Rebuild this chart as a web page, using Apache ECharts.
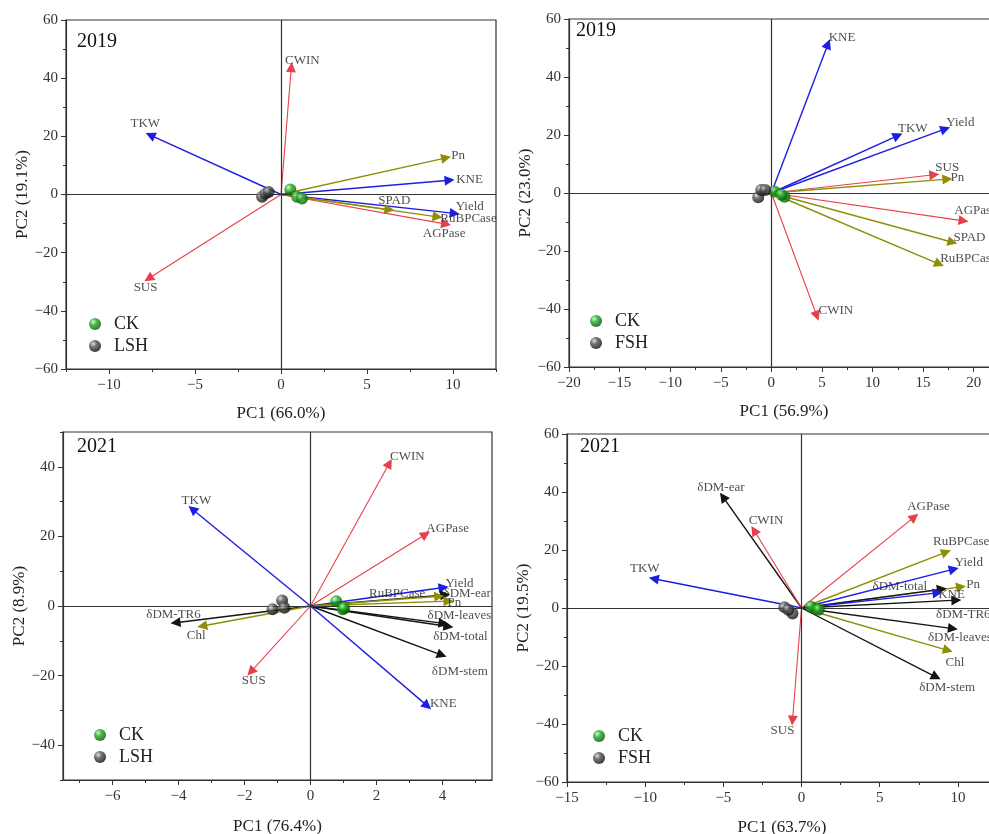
<!DOCTYPE html>
<html>
<head>
<meta charset="utf-8">
<script src="https://cdn.jsdelivr.net/npm/echarts@6/dist/echarts.min.js"></script>
<style>
  html, body { margin: 0; padding: 0; background: #fff; overflow: hidden; }
  /* the right-hand panels run past the window edge */
  #chart { width: 1012px; height: 834px; }
</style>
</head>
<body>
<div id="chart"></div>
<script>
// ---------- Panel A: 2019, CK vs LSH ----------
const varsA = ['CWIN', 'TKW', 'Pn', 'KNE', 'Yield', 'SPAD', 'RuBPCase', 'AGPase', 'SUS'];
const pc1A  = [0.6, -7.6, 9.6, 9.8, 10.1, 6.3, 9.1, 9.6, -7.7];
const pc2A  = [43.8, 20.4, 12.6, 4.9, -6.5, -5.2, -7.7, -10.2, -28.9];
const ckA_pc1 = [0.54, 0.93, 1.22];
const ckA_pc2 = [1.7, -0.8, -1.4];
const shA_pc1 = [-1.1, -0.91, -0.72];
const shA_pc2 = [-0.8, 0.3, 0.9];

// ---------- Panel B: 2019, CK vs FSH ----------
const varsB = ['KNE', 'TKW', 'Yield', 'SUS', 'Pn', 'AGPase', 'SPAD', 'RuBPCase', 'CWIN'];
const pc1B  = [5.6, 12.5, 17.2, 16.1, 17.4, 19.0, 17.9, 16.6, 4.5];
const pc2B  = [51.4, 19.8, 22.1, 6.3, 4.8, -9.6, -17.0, -24.5, -42.4];
const ckB_pc1 = [1.3, 0.3, 1.0];
const ckB_pc2 = [-1.3, 0.5, -0.6];
const shB_pc1 = [-1.3, -1.0, -0.6];
const shB_pc2 = [-1.5, 1.0, 1.0];

// ---------- Panel C: 2021, CK vs LSH ----------
const varsC = ['CWIN', 'TKW', 'AGPase', 'Yield', 'δDM-ear', 'RuBPCase', 'Pn', 'δDM-leaves', 'δDM-total', 'δDM-stem', 'KNE', 'SUS', 'δDM-TR6', 'Chl'];
const pc1C  = [2.39, -3.58, 3.49, 4.03, 4.08, 3.9, 4.18, 4.03, 4.18, 3.98, 3.54, -1.81, -4.09, -3.28];
const pc2C  = [41.0, 27.8, 20.6, 5.3, 3.2, 2.8, 1.4, -5.0, -5.9, -14.1, -28.7, -18.9, -4.8, -5.75];
const ckC_pc1 = [0.78, 0.98, 1.02];
const ckC_pc2 = [1.4, -0.95, -0.6];
const shC_pc1 = [-1.15, -0.86, -0.79];
const shC_pc2 = [-0.95, 1.6, -0.5];

// ---------- Panel D: 2021, CK vs FSH ----------
const varsD = ['δDM-ear', 'CWIN', 'AGPase', 'RuBPCase', 'Yield', 'Pn', 'δDM-total', 'KNE', 'δDM-TR6', 'δDM-leaves', 'Chl', 'δDM-stem', 'SUS', 'TKW'];
const pc1D  = [-5.03, -3.04, 7.22, 9.25, 9.74, 10.2, 8.97, 8.7, 9.9, 9.68, 9.36, 8.61, -0.58, -9.45];
const pc2D  = [38.3, 26.8, 31.4, 19.3, 13.4, 7.3, 6.5, 5.2, 2.7, -7.1, -14.6, -23.8, -38.8, 10.1];
const ckD_pc1 = [0.9, 0.6, 1.1];
const ckD_pc2 = [-0.3, 0.4, -0.6];
const shD_pc1 = [-1.1, -0.58, -0.85];
const shD_pc2 = [0.3, -1.9, -0.6];

// ---------- Axis titles and tick labels ----------
const years   = ['2019', '2019', '2021', '2021'];
const groupsB = ['LSH', 'FSH', 'LSH', 'FSH'];
const xTitles = ['PC1 (66.0%)', 'PC1 (56.9%)', 'PC1 (76.4%)', 'PC1 (63.7%)'];
const yTitles = ['PC2 (19.1%)', 'PC2 (23.0%)', 'PC2 (8.9%)', 'PC2 (19.5%)'];
const xTicks = [[-10, -5, 0, 5, 10], [-20, -15, -10, -5, 0, 5, 10, 15, 20], [-6, -4, -2, 0, 2, 4], [-15, -10, -5, 0, 5, 10]];
const xMinorTicks = [[-12.5, -7.5, -2.5, 2.5, 7.5, 12.5], [-17.5, -12.5, -7.5, -2.5, 2.5, 7.5, 12.5, 17.5, 22.5], [-7, -5, -3, -1, 1, 3, 5], [-12.5, -7.5, -2.5, 2.5, 7.5, 12.5]];
const yTicks = [[-60, -40, -20, 0, 20, 40, 60], [-60, -40, -20, 0, 20, 40, 60], [-40, -20, 0, 20, 40], [-60, -40, -20, 0, 20, 40, 60]];
const yMinorTicks = [[-50, -30, -10, 10, 30, 50], [-50, -30, -10, 10, 30, 50], [-50, -30, -10, 10, 30, 50], [-50, -30, -10, 10, 30, 50]];
const xRanges = [[-12.5, 12.5], [-20, 22.5], [-7.5, 5.5], [-15, 12.5]];
const yRanges = [[-60, 60], [-60, 60], [-50, 50], [-60, 60]];

// ---------- Layout & styling ----------
const FONT = '"Liberation Serif", "Times New Roman", serif';
const grids = [
  { left: 66,  top: 20,  width: 430, height: 349 },
  { left: 569, top: 19,  width: 430, height: 348 },
  { left: 63,  top: 432, width: 429, height: 348 },
  { left: 567, top: 434, width: 430, height: 348 }
];
const xNameGap = [36, 36, 38, 37];
const yNameGap = [34, 35, 32, 33];
const yearPos = [[77, 32], [576, 21], [77, 437], [580, 437]];
const legendPos = [[84, 308], [585, 305], [89, 719], [588, 720]];

// label offsets (px) relative to each arrow tip
const offA = [[11, -7], [-5, -12], [12, -2], [20, -1], [15, -7], [5, -9], [31, 2], [-2, 9], [-3, 9]];
const offB = [[14, -6], [15, -7], [15, -6], [13, -7], [10, -2], [12, -10], [17, -5], [29, -5], [19, -5]];
const offC = [[18, -7], [4, -9], [22, -6], [16, -4], [22, -1], [-42, -3], [6, 1], [16, -8], [12, 10], [18, 17], [16, -2], [3, 9], [-2, -8], [-6, 10]];
const offD = [[-2, -9], [12, -10], [14, -10], [15, -10], [15, -7], [12, -2], [-42, -3], [14, 2], [7, 14], [7, 9], [7, 12], [11, 11], [-10, 10], [-9, -10]];

const RED = '#e8404a', BLUE = '#1e1ee2', OLIVE = '#8e8e08', BLACK = '#141414';
function arrowColor(name) {
  if (name === 'CWIN' || name === 'SUS' || name === 'AGPase') return RED;
  if (name === 'TKW' || name === 'KNE' || name === 'Yield') return BLUE;
  if (name.indexOf('δDM') === 0) return BLACK;
  return OLIVE;
}
const ball = (c0, c1, c2) => new echarts.graphic.RadialGradient(0.35, 0.32, 0.7, [
  { offset: 0, color: c0 }, { offset: 0.4, color: c1 }, { offset: 1, color: c2 }
]);
const greenBall = ball('#c8f7c0', '#1faa1f', '#045204');
const greyBall  = ball('#d8d8d8', '#505050', '#0c0c0c');
const fmt = v => String(v).replace('-', '\u2212');

const panels = [
  { vars: varsA, pc1: pc1A, pc2: pc2A, off: offA, ck: [ckA_pc1, ckA_pc2], sh: [shA_pc1, shA_pc2] },
  { vars: varsB, pc1: pc1B, pc2: pc2B, off: offB, ck: [ckB_pc1, ckB_pc2], sh: [shB_pc1, shB_pc2] },
  { vars: varsC, pc1: pc1C, pc2: pc2C, off: offC, ck: [ckC_pc1, ckC_pc2], sh: [shC_pc1, shC_pc2] },
  { vars: varsD, pc1: pc1D, pc2: pc2D, off: offD, ck: [ckD_pc1, ckD_pc2], sh: [shD_pc1, shD_pc2] }
];

const option = {
  backgroundColor: '#fff',
  animation: false,
  title: [], grid: [], xAxis: [], yAxis: [], legend: [], series: []
};

panels.forEach((p, i) => {
  option.grid.push(Object.assign({
    show: true, borderColor: '#333', borderWidth: 1.2, backgroundColor: 'transparent',
    containLabel: false, outerBoundsMode: 'none'
  }, grids[i]));
  option.title.push({
    text: years[i], left: yearPos[i][0], top: yearPos[i][1], padding: 0,
    textStyle: { fontFamily: FONT, fontSize: 20, fontWeight: 'normal', color: '#111' }
  });
  // main axes with labelled ticks
  option.xAxis.push({
    gridIndex: i, type: 'value', min: xRanges[i][0], max: xRanges[i][1],
    name: xTitles[i], nameLocation: 'middle', nameGap: xNameGap[i],
    nameTextStyle: { fontFamily: FONT, fontSize: 17, color: '#222' },
    axisLine: { show: true, onZero: false, lineStyle: { color: '#333', width: 1.2 } },
    axisTick: { show: true, customValues: xTicks[i], length: 5, lineStyle: { color: '#333' } },
    axisLabel: { customValues: xTicks[i], fontFamily: FONT, fontSize: 15, color: '#333', margin: 9, formatter: fmt },
    splitLine: { show: false }
  });
  option.yAxis.push({
    gridIndex: i, type: 'value', min: yRanges[i][0], max: yRanges[i][1],
    name: yTitles[i], nameLocation: 'middle', nameGap: yNameGap[i],
    nameTextStyle: { fontFamily: FONT, fontSize: 17, color: '#222' },
    axisLine: { show: true, onZero: false, lineStyle: { color: '#333', width: 1.2 } },
    axisTick: { show: true, customValues: yTicks[i], length: 5, lineStyle: { color: '#333' } },
    axisLabel: { customValues: yTicks[i], fontFamily: FONT, fontSize: 15, color: '#333', margin: 8, formatter: fmt },
    splitLine: { show: false }
  });
});

// minor-tick axes (unlabelled)
panels.forEach((p, i) => {
  option.xAxis.push({
    gridIndex: i, type: 'value', min: xRanges[i][0], max: xRanges[i][1], position: 'bottom',
    axisLine: { show: false, onZero: false },
    axisTick: { show: true, customValues: xMinorTicks[i], length: 3, lineStyle: { color: '#333' } },
    axisLabel: { show: false }, splitLine: { show: false }
  });
  option.yAxis.push({
    gridIndex: i, type: 'value', min: yRanges[i][0], max: yRanges[i][1], position: 'left',
    axisLine: { show: false, onZero: false },
    axisTick: { show: true, customValues: yMinorTicks[i], length: 3, lineStyle: { color: '#333' } },
    axisLabel: { show: false }, splitLine: { show: false }
  });
});

panels.forEach((p, i) => {
  // zero reference lines through the origin
  option.series.push({
    type: 'scatter', xAxisIndex: i, yAxisIndex: i, data: [], z: 1, silent: true,
    markLine: {
      silent: true, symbol: 'none', animation: false, label: { show: false },
      lineStyle: { color: '#333', width: 1.2, type: 'solid' },
      data: [{ xAxis: 0 }, { yAxis: 0 }]
    }
  });
  // loading arrows
  option.series.push({
    type: 'lines', coordinateSystem: 'cartesian2d', xAxisIndex: i, yAxisIndex: i, z: 3, silent: true,
    symbol: ['none', 'triangle'], symbolSize: 10,
    data: p.vars.map((n, k) => ({
      name: n,
      coords: [[0, 0], [p.pc1[k], p.pc2[k]]],
      lineStyle: { color: arrowColor(n), width: arrowColor(n) === RED ? 1.1 : 1.4, opacity: 1 }
    }))
  });
  // variable labels at the arrow tips
  option.series.push({
    type: 'scatter', xAxisIndex: i, yAxisIndex: i, z: 6, silent: true,
    symbolSize: 1, itemStyle: { color: 'transparent' },
    data: p.vars.map((n, k) => ({
      name: n, value: [p.pc1[k], p.pc2[k]],
      label: { show: true, position: 'inside', offset: p.off[k], formatter: '{b}',
               fontFamily: FONT, fontSize: 13, color: '#222' }
    }))
  });
  // sample scores
  option.series.push({
    name: 'CK', type: 'scatter', xAxisIndex: i, yAxisIndex: i, z: 5,
    symbolSize: 12, itemStyle: { color: greenBall },
    data: p.ck[0].map((v, k) => [v, p.ck[1][k]])
  });
  option.series.push({
    name: groupsB[i], type: 'scatter', xAxisIndex: i, yAxisIndex: i, z: 5,
    symbolSize: 12, itemStyle: { color: greyBall },
    data: p.sh[0].map((v, k) => [v, p.sh[1][k]])
  });
  option.legend.push({
    data: ['CK', groupsB[i]], orient: 'vertical', left: legendPos[i][0], top: legendPos[i][1],
    icon: 'circle', itemWidth: 12, itemHeight: 12, itemGap: 0, selectedMode: false,
    textStyle: { fontFamily: FONT, fontSize: 18, color: '#222', lineHeight: 22, padding: [0, 0, 0, 8] }
  });
});

const chart = echarts.init(document.getElementById('chart'), null, { renderer: 'canvas' });
chart.setOption(option);
</script>
</body>
</html>
